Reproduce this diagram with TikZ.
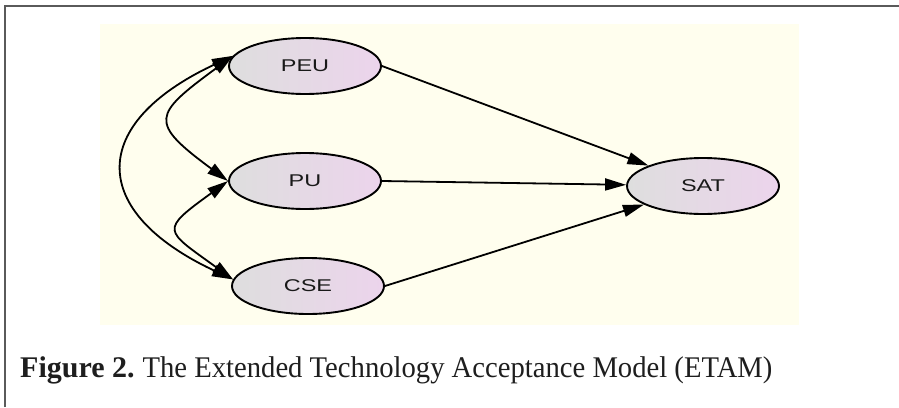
\documentclass[tikz,border=0pt]{standalone}
\usepackage{fontspec}
\usepackage{graphicx}
\setmainfont{Liberation Serif}
\newfontfamily\labelfont{Liberation Sans}
\usetikzlibrary{shapes.geometric,arrows.meta}
\definecolor{cream}{RGB}{255,254,238}
\definecolor{framegray}{RGB}{90,90,90}
\definecolor{ellleft}{RGB}{222,222,222}
\definecolor{ellright}{RGB}{236,212,236}
\definecolor{captext}{RGB}{30,30,30}
\definecolor{labtext}{RGB}{25,25,25}
\begin{document}
\begin{tikzpicture}[x=1pt,y=-1pt,
  latent/.style={ellipse, draw=black, line width=1.9pt, minimum width=152pt, minimum height=56pt, inner sep=0pt,
    left color=ellleft, right color=ellright, font=\labelfont\fontsize{17}{17}\selectfont, text=labtext},
  regpath/.style={line width=1.8pt, -{Triangle[length=21pt,width=12pt]}},
  covpath/.style={line width=1.8pt, {Triangle[length=21pt,width=12pt]}-{Triangle[length=21pt,width=12pt]}}
]
\useasboundingbox (0,0) rectangle (899,407);
\fill[cream] (100,24) rectangle (799,325);
\draw[framegray, line width=1.8pt] (5,407) -- (5,6) -- (899,6);
\node[latent] (PEU) at (305,66) {\scalebox{1.38}[1]{PEU}};
\node[latent] (PU) at (305,181) {\scalebox{1.38}[1]{PU}};
\node[latent] (CSE) at (308,286) {\scalebox{1.38}[1]{CSE}};
\node[latent] (SAT) at (703,186) {\scalebox{1.38}[1]{SAT}};
\draw[regpath] (PEU.east) -- (SAT);
\draw[regpath] (PU.east) -- (SAT);
\draw[regpath] (CSE.east) -- (SAT);
\draw[covpath] (PEU.172) .. controls +(-145,68) and +(-145,-68) .. (CSE.175);
\draw[covpath] (PEU.172) .. controls +(-80,59) and +(-80,-59) .. (PU.west);
\draw[covpath] (PU.west) .. controls +(-69,50) and +(-69,-50) .. (CSE.175);
\node[anchor=base west, inner sep=0pt, text=captext, font=\fontsize{30}{30}\selectfont] (cap) at (20,377)
  {\textbf{Figure 2.}\hspace{8pt}\scalebox{0.955}[1]{The Extended Technology Acceptance Model (ETAM)}};
\end{tikzpicture}
\end{document}
